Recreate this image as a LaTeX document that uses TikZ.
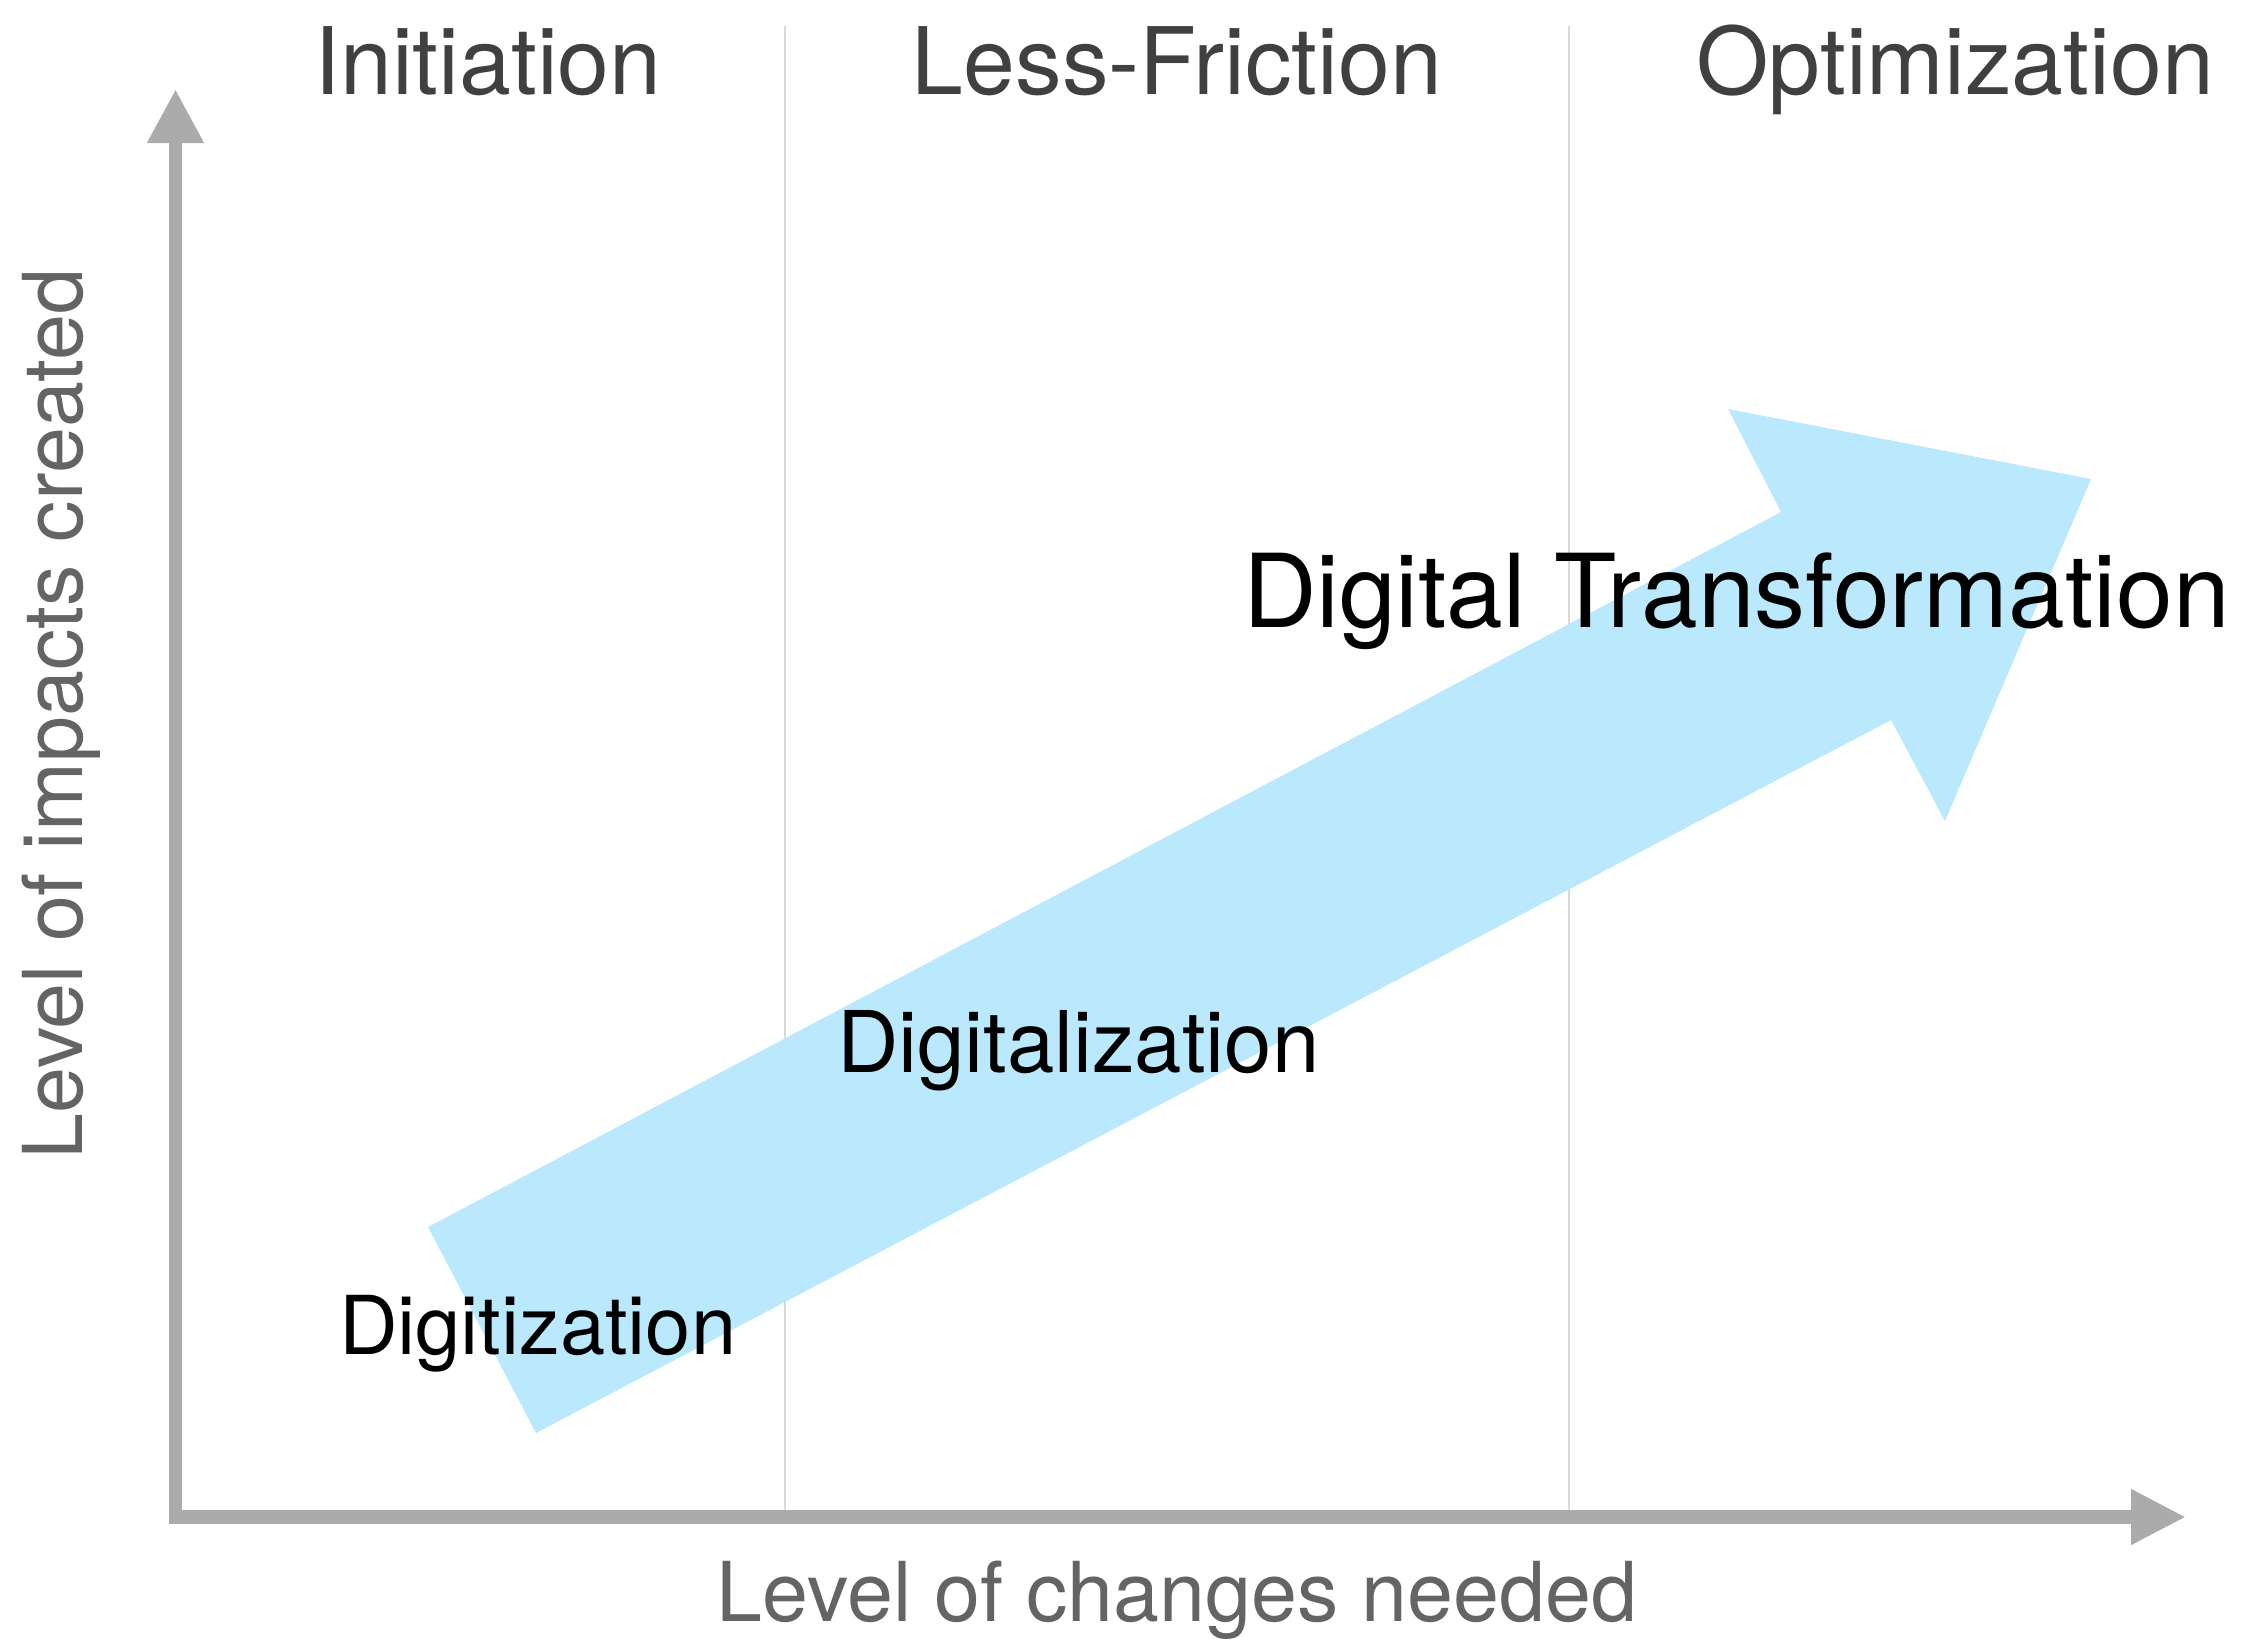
\documentclass[tikz,border=0pt]{standalone}
\usepackage{fontspec}
\setmainfont{TeX Gyre Heros}
\usetikzlibrary{arrows.meta}

\definecolor{axisgray}{RGB}{171,171,171}
\definecolor{gridgray}{RGB}{217,217,217}
\definecolor{titlegray}{RGB}{64,64,64}
\definecolor{labelgray}{RGB}{100,100,100}
\definecolor{arrowblue}{RGB}{186,232,253}

\begin{document}
\begin{tikzpicture}[x=0.01cm, y=-0.01cm,
    every node/.style={inner sep=0pt, outer sep=0pt},
    phase/.style={font=\fontsize{26.5}{30}\selectfont, text=titlegray, anchor=base},
    stage/.style={font=\fontsize{23.5}{28}\selectfont, anchor=base west},
    axislabel/.style={font=\fontsize{23.5}{28}\selectfont, text=labelgray, anchor=base},
    axisline/.style={axisgray, line width=0.135cm, line join=miter,
        {Triangle[length=0.54cm,width=0.53cm]}-{Triangle[length=0.55cm,width=0.52cm]}}]
    \useasboundingbox (0,0) rectangle (2243,1639);

    % Grenzen der Phasen
    \coordinate (origin) at (175.5,1517);
    \coordinate (ytop) at (175.5,89);
    \coordinate (xend) at (2186,1517);
    \draw[gridgray, line width=0.02cm] (785,26) -- (785,1517);
    \draw[gridgray, line width=0.02cm] (1569,26) -- (1569,1517);

    % Großer Pfeil
    \fill[arrowblue] (428,1227) -- (536,1433) -- (1891,720) -- (1945,821)
        -- (2091,479) -- (1728,409) -- (1781,512) -- cycle;

    % Achsen
    \draw[axisline] (ytop) -- (origin) -- (xend);

    % Phasen
    \node[phase] (init) at (488,94) {Initiation};
    \node[phase] (less) at (1177,94) {Less-Friction};
    \node[phase] (optim) at (1955,94) {Optimization};

    % Stufen
    \node[stage, font=\fontsize{23.1}{28}\selectfont] (digitization) at (339,1354) {Digitization};
    \node[stage, font=\fontsize{24.2}{28}\selectfont] (digitalization) at (837,1072) {Digitalization};
    \node[stage, font=\fontsize{29}{34}\selectfont] (transform) at (1243,627) {Digital Transformation};

    % Achsenbeschriftung
    \node[axislabel] (xlabel) at (1177,1621) {Level of changes needed};
    \node[axislabel, rotate=90] (ylabel) at (82,714) {Level of impacts created};
\end{tikzpicture}
\end{document}
